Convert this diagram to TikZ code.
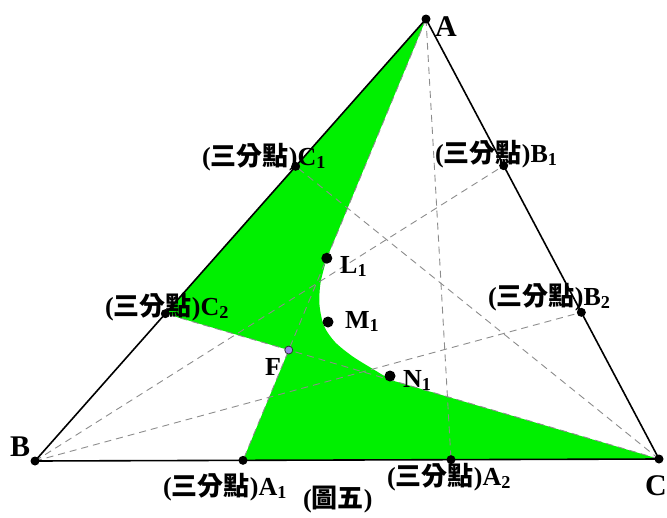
\documentclass[tikz,border=0pt]{standalone}
\usepackage{fontspec}
\setmainfont{Liberation Serif}
\newfontfamily\cjk{Noto Sans CJK TC}
\usetikzlibrary{calc}
\definecolor{fillgreen}{HTML}{00F000}
\definecolor{dashgray}{HTML}{8C8C8C}
\definecolor{flilac}{HTML}{9A86E6}
\newcommand{\tri}{({\cjk 三分點})}
\tikzset{
  lab/.style={inner sep=0pt, anchor=base west, font=\fontsize{26}{28}\selectfont\bfseries},
  vlab/.style={inner sep=0pt, anchor=base west, font=\fontsize{30}{32}\selectfont\bfseries},
  dot/.style={circle, fill=black, inner sep=0pt, minimum size=9pt},
  bigdot/.style={circle, fill=black, inner sep=0pt, minimum size=11pt},
  fdot/.style={circle, fill=flilac, draw=black!80, line width=0.8pt, inner sep=0pt, minimum size=8pt},
  aux/.style={dashgray, line width=0.9pt, dash pattern=on 7pt off 5pt},
  side/.style={black, line width=1.6pt}
}
\begin{document}
\begin{tikzpicture}[x=1pt,y=-1pt]
\useasboundingbox (0,0) rectangle (667,517);
\coordinate (A) at (426,19);
\coordinate (B) at (35,461);
\coordinate (C) at (659,459);
\coordinate (C1) at ($(A)!1/3!(B)$);
\coordinate (C2) at ($(A)!2/3!(B)$);
\coordinate (B1) at ($(A)!1/3!(C)$);
\coordinate (B2) at ($(A)!2/3!(C)$);
\coordinate (A1) at ($(B)!1/3!(C)$);
\coordinate (A2) at ($(B)!2/3!(C)$);
\coordinate (F) at (intersection of A--A1 and C--C2);
\coordinate (L1) at ($(A)!0.542!(A1)$);
\coordinate (P) at ($(C2)!0.458!(C)$);
\coordinate (M1) at (328,322);
\coordinate (N1) at (390,376);
% green region
\fill[fillgreen] (A) -- (C2) -- (F) -- (A1) -- (C) --
  plot[smooth] coordinates {(P) (372,368.5) (352,356) (335,342) (324,326) (319.5,305) (320.5,283) (L1)} -- cycle;
% dashed cevians
\draw[aux] (A) -- (A1);
\draw[aux] (A) -- (A2);
\draw[aux] (B) -- (B1);
\draw[aux] (B) -- (B2);
\draw[aux] (C) -- (C1);
\draw[aux] (C) -- (C2);
% triangle
\draw[side] (A) -- (B) -- (C) -- cycle;
% dots
\node[dot] (dA) at (A) {};
\node[dot] (dB) at (B) {};
\node[dot] (dC) at (C) {};
\node[dot] (dA1) at (A1) {};
\node[dot] (dA2) at (A2) {};
\node[dot] (dB1) at (B1) {};
\node[dot] (dB2) at (B2) {};
\node[dot] (dC1) at (C1) {};
\node[dot] (dC2) at (C2) {};
\node[bigdot] (dL1) at (L1) {};
\node[bigdot] (dM1) at (M1) {};
\node[bigdot] (dN1) at (N1) {};
\node[fdot] (dF) at (F) {};
% labels
\node[vlab] (tA) at (435,36) {A};
\node[vlab] (tB) at (10,456) {B};
\node[vlab] (tC) at (645,495) {C};
\node[lab] (tC1) at (202,165) {\tri C\textsubscript{1}};
\node[lab] (tC2) at (105,315) {\tri C\textsubscript{2}};
\node[lab] (tB1) at (435,162) {\tri B\textsubscript{1}};
\node[lab] (tB2) at (488,305) {\tri B\textsubscript{2}};
\node[lab] (tA1) at (163,495) {\tri A\textsubscript{1}};
\node[lab] (tA2) at (387,485) {\tri A\textsubscript{2}};
\node[lab] (tL1) at (340,273) {L\textsubscript{1}};
\node[lab] (tM1) at (345,328) {M\textsubscript{1}};
\node[lab] (tN1) at (403,387) {N\textsubscript{1}};
\node[lab] (tF) at (265,375) {F};
\node[lab] (cap) at (303,507) {({\cjk 圖五})};
\end{tikzpicture}
\end{document}
